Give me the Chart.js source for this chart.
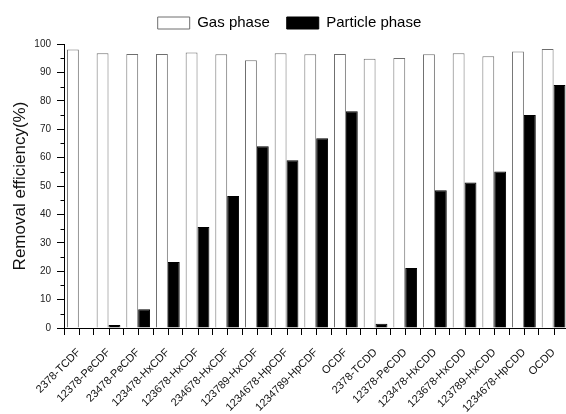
<!DOCTYPE html>
<html>
<head>
<meta charset="utf-8">
<script src="https://cdn.jsdelivr.net/npm/chart.js@4/dist/chart.umd.min.js"></script>
<style>
  html, body { margin: 0; padding: 0; overflow: hidden; background: #fff; width: 566px; height: 414px; }
  #wrap { width: 574px; height: 414px; }
</style>
</head>
<body>
<div id="wrap"><canvas id="c" width="574" height="414"></canvas></div>
<script>
const categories = ['2378-TCDF','12378-PeCDF','23478-PeCDF','123478-HxCDF','123678-HxCDF','234678-HxCDF','123789-HxCDF','1234678-HpCDF','1234789-HpCDF','OCDF','2378-TCDD','12378-PeCDD','123478-HxCDD','123678-HxCDD','123789-HxCDD','1234678-HpCDD','OCDD'];
const gasPhase = [98.1, 96.7, 96.5, 96.5, 97.0, 96.4, 94.3, 96.7, 96.4, 96.5, 94.8, 95.1, 96.4, 96.7, 95.7, 97.4, 98.2];
const particlePhase = [0, 1.1, 6.6, 23.2, 35.6, 46.5, 64.0, 59.1, 66.8, 76.3, 1.5, 21.1, 48.5, 51.2, 55.1, 75.0, 85.6];
const yMinorTicks = [5, 15, 25, 35, 45, 55, 65, 75, 85, 95];

const FONT = "'Liberation Sans', Arial, sans-serif";

const extraTicks = {
  id: 'extraTicks',
  afterLayout(chart) {
    const lg = chart.legend;
    if (lg) { lg.left += 4; lg.right += 4; lg.top -= 3.5; lg.bottom -= 3.5; }
  },
  afterDraw(chart) {
    const ctx = chart.ctx, x = chart.scales.x, y = chart.scales.y;
    ctx.save();
    ctx.strokeStyle = '#000';
    ctx.lineWidth = 1;
    ctx.beginPath();
    categories.forEach((c, i) => {
      const px = Math.round(x.getPixelForValue(i)) + 0.5;
      ctx.moveTo(px, x.top);
      ctx.lineTo(px, x.top + 7);
    });
    yMinorTicks.forEach(v => {
      const py = Math.round(y.getPixelForValue(v)) + 0.5;
      ctx.moveTo(y.right - 3.5, py);
      ctx.lineTo(y.right, py);
    });
    ctx.stroke();
    ctx.restore();
  }
};

new Chart(document.getElementById('c'), {
  type: 'bar',
  data: {
    labels: categories,
    datasets: [
      { label: 'Gas phase', data: gasPhase, backgroundColor: '#ffffff', borderColor: '#6e6e6e', borderWidth: 1 },
      { label: 'Particle phase', data: particlePhase, backgroundColor: '#000000', borderColor: '#000000', borderWidth: 1 }
    ]
  },
  options: {
    responsive: false,
    devicePixelRatio: 1,
    animation: false,
    layout: { padding: { top: 2, right: 3, left: 0, bottom: 0 } },
    datasets: { bar: { categoryPercentage: 0.8, barPercentage: 1.0 } },
    plugins: {
      legend: {
        position: 'top',
        labels: {
          boxWidth: 32,
          boxHeight: 12,
          padding: 17,
          color: '#000',
          font: { family: FONT, size: 15 }
        }
      },
      tooltip: { enabled: false }
    },
    scales: {
      x: {
        offset: true,
        grid: { offset: true, drawOnChartArea: false, tickLength: 7, color: '#000' },
        border: { display: true, color: '#000', width: 1 },
        ticks: {
          autoSkip: false, minRotation: 45, maxRotation: 45, padding: 11,
          color: '#111', font: { family: FONT, size: 11 }
        },
        afterFit(s) { s.height = 86; }
      },
      y: {
        min: 0, max: 100,
        grid: { drawOnChartArea: false, tickLength: 7, color: '#000' },
        border: { display: true, color: '#000', width: 1 },
        ticks: { stepSize: 10, padding: 6, color: '#222', font: { family: FONT, size: 10 } },
        title: { display: true, text: 'Removal efficiency(%)', color: '#111', font: { family: FONT, size: 17 }, padding: { top: 10, bottom: 0 } },
        afterFit(s) { s.width = 64; }
      }
    }
  },
  plugins: [extraTicks]
});
</script>
</body>
</html>
